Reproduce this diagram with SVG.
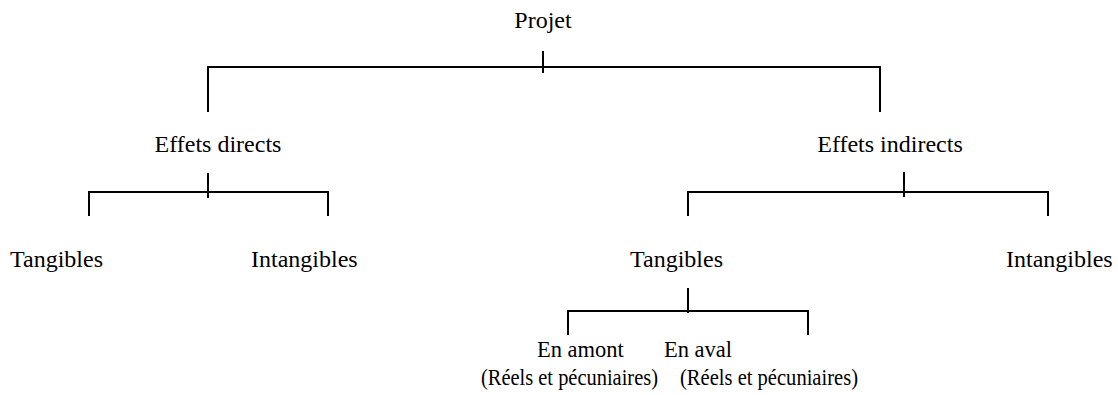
<svg xmlns="http://www.w3.org/2000/svg" width="1118" height="395" viewBox="0 0 1118 395">
<style>
text{font-family:"Liberation Serif","Times New Roman",serif;font-size:24px;fill:#000}
text.m{font-size:22.5px}
text.s{font-size:22.5px}
.c line{stroke:#000;stroke-width:2}
</style>
<rect width="1118" height="395" fill="#fff"/>
<g class="c" id="connectors">
<line x1="543" y1="51" x2="543" y2="73"/>
<line x1="207" y1="67" x2="881" y2="67"/>
<line x1="208" y1="66" x2="208" y2="112"/>
<line x1="880" y1="66" x2="880" y2="112"/>
<line x1="208" y1="173" x2="208" y2="198"/>
<line x1="88" y1="192" x2="329" y2="192"/>
<line x1="89" y1="191" x2="89" y2="216"/>
<line x1="328" y1="191" x2="328" y2="216"/>
<line x1="904" y1="172" x2="904" y2="197"/>
<line x1="687" y1="192" x2="1049" y2="192"/>
<line x1="688" y1="191" x2="688" y2="216"/>
<line x1="1048" y1="191" x2="1048" y2="216"/>
<line x1="688" y1="288" x2="688" y2="313"/>
<line x1="567" y1="311" x2="809" y2="311"/>
<line x1="568" y1="310" x2="568" y2="335"/>
<line x1="808" y1="310" x2="808" y2="335"/>
</g>
<g id="projet"><text x="543" y="28" text-anchor="middle">Projet</text></g>
<g id="effets-directs"><text x="218" y="152" text-anchor="middle">Effets directs</text></g>
<g id="effets-indirects"><text x="890" y="152" text-anchor="middle">Effets indirects</text></g>
<g id="d-tangibles"><text x="10" y="267">Tangibles</text></g>
<g id="d-intangibles"><text x="251" y="267">Intangibles</text></g>
<g id="i-tangibles"><text x="630" y="267">Tangibles</text></g>
<g id="i-intangibles"><text x="1006" y="267">Intangibles</text></g>
<g id="en-amont"><text class="m" x="537" y="357">En amont</text><text class="s" x="481" y="385" textLength="177" lengthAdjust="spacingAndGlyphs">(Réels et pécuniaires)</text></g>
<g id="en-aval"><text class="m" x="664" y="357">En aval</text><text class="s" x="680" y="385" textLength="178" lengthAdjust="spacingAndGlyphs">(Réels et pécuniaires)</text></g>
</svg>
